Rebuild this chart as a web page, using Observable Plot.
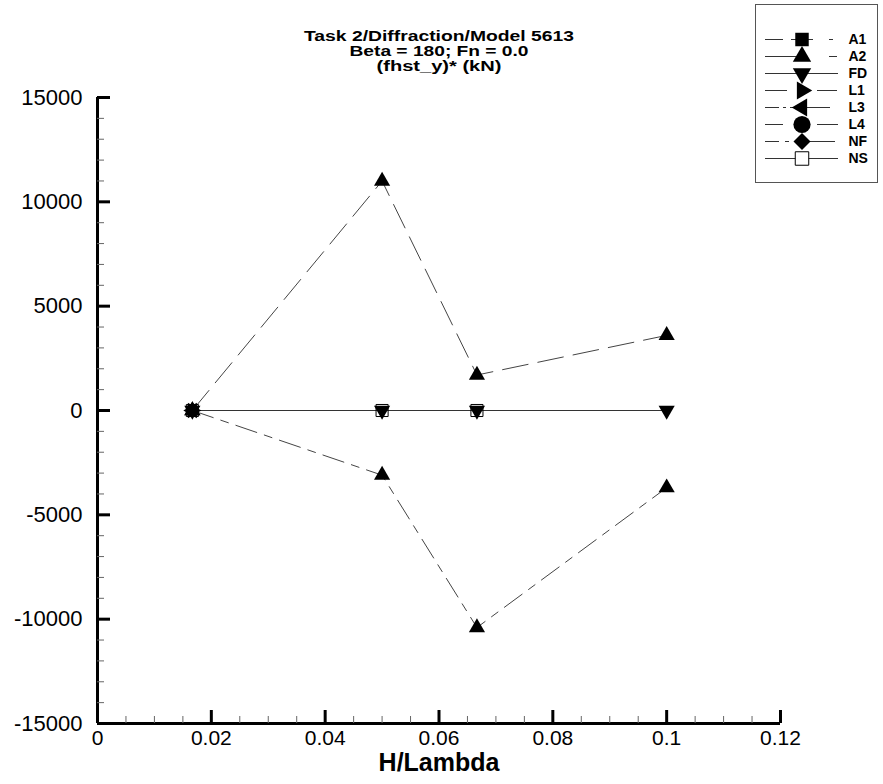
<!DOCTYPE html>
<html><head><meta charset="utf-8">
<script src="https://cdn.jsdelivr.net/npm/d3@7"></script>
<script src="https://cdn.jsdelivr.net/npm/@observablehq/plot@0.6"></script>
<style>
body{margin:0;background:#fff;}
#wrap{position:relative;width:883px;height:784px;font-family:"Liberation Sans",Arial,sans-serif;}
#legend{position:absolute;left:755px;top:4px;width:123px;height:179px;border:1px solid #555;box-sizing:border-box;background:#fff}
#legend svg{display:block}
</style></head><body>
<div id="wrap"><div id="chart"></div><div id="legend"></div></div>
<script>
// ---- data ----
const titleLines = ["Task 2/Diffraction/Model 5613", "Beta = 180; Fn = 0.0", "(fhst_y)* (kN)"];
const xLabel = "H/Lambda";
const xValues = [1/60, 0.05, 1/15, 0.1];
const a2Upper = [0, 11000, 1700, 3600];
const a2Lower = [0, -3100, -10400, -3700];
const fdValues = [0, 0, 0, 0];
const nsValues = [0, 0, 0];
const singlePointValues = [0];            // A1, L1, L3, L4, NF (first x only)
const singlePointSeries = ["A1", "L1", "L3", "L4", "NF"];
const seriesNames = ["A1", "A2", "FD", "L1", "L3", "L4", "NF", "NS"];
const xTickValues = [0, 0.02, 0.04, 0.06, 0.08, 0.1, 0.12];
const xTickLabels = ["0", "0.02", "0.04", "0.06", "0.08", "0.1", "0.12"];
const yTickValues = [-15000, -10000, -5000, 0, 5000, 10000, 15000];
const yTickLabels = ["-15000", "-10000", "-5000", "0", "5000", "10000", "15000"];

// ---- styles ----
const markerStyle = {
  A1: {symbol: "square", r: 6.8, rotate: 0, fill: "black", stroke: "none"},
  A2: {symbol: "triangle", r: 6, rotate: 0, fill: "black", stroke: "none"},
  FD: {symbol: "triangle", r: 6, rotate: 180, fill: "black", stroke: "none"},
  L1: {symbol: "triangle", r: 5.8, rotate: 90, fill: "black", stroke: "none"},
  L3: {symbol: "triangle", r: 5.8, rotate: -90, fill: "black", stroke: "none"},
  L4: {symbol: "circle", r: 7.8, rotate: 0, fill: "black", stroke: "none"},
  NF: {symbol: "square", r: 6, rotate: 45, fill: "black", stroke: "none"},
  NS: {symbol: "square", r: 6.8, rotate: 0, fill: "none", stroke: "black"}
};
const chartSizeScale = {A1: 0.85, L1: 1, L3: 1, L4: 0.7, NF: 0.85};
const legendDash = {
  A1: "18,8,22,16,4,16", A2: "34,30,8,40", FD: null, L1: "22,30,20,10,4,40",
  L3: "14,4,3,4,40,12,3,4,3,4,3,4", L4: "18,34,30,10,4,40", NF: "14,6,4,6,40,14,6,6,4,6", NS: null
};
const titleWidths = [270, 179, 125];
const FONT = "'Liberation Sans', Arial, sans-serif";

const mk = (name, ys, xs = xValues) => ys.map((y, i) => ({name, x: xs[i], y}));
const upper = mk("A2", a2Upper);
const lower = mk("A2", a2Lower);
const fd = mk("FD", fdValues);
const ns = mk("NS", nsValues);
const singles = singlePointSeries.flatMap(n => mk(n, singlePointValues));

const yMinor = d3.range(-15000, 15001, 1000).filter(v => v % 5000 !== 0);
const xMinor = d3.range(0, 0.1201, 0.005).filter(v => Math.abs(v / 0.02 - Math.round(v / 0.02)) > 1e-6);

const W = 883, H = 784, mL = 97, mR = 103, mT = 97, mB = 61;
const frameW = W - mL - mR, frameH = H - mT - mB;

const dotMarks = (rows, name, k = 1) => {
  const s = markerStyle[name];
  return Plot.dot(rows, {x: "x", y: "y", symbol: () => s.symbol, r: s.r * k, rotate: s.rotate,
    fill: s.fill, stroke: s.stroke, strokeWidth: 1});
};

const chart = Plot.plot({
  width: W, height: H,
  marginLeft: mL, marginRight: mR, marginTop: mT, marginBottom: mB,
  x: {domain: [0, 0.12]},
  y: {domain: [-15000, 15000]},
  symbol: {type: "identity"},
  style: {fontFamily: FONT, background: "white", color: "black", overflow: "visible"},
  marks: [
    // lines
    Plot.line(upper, {x: "x", y: "y", stroke: "#444", strokeWidth: 1, strokeDasharray: "26,10"}),
    Plot.line(lower, {x: "x", y: "y", stroke: "#444", strokeWidth: 1, strokeDasharray: "22,8,8,8"}),
    Plot.line(fd, {x: "x", y: "y", stroke: "#333", strokeWidth: 1.2}),
    Plot.line(ns, {x: "x", y: "y", stroke: "#333", strokeWidth: 1}),
    // markers
    ...singlePointSeries.map(n => dotMarks(singles.filter(d => d.name === n), n, chartSizeScale[n])),
    dotMarks(upper, "A2"),
    dotMarks(lower, "A2"),
    dotMarks(fd, "FD"),
    dotMarks(ns, "NS"),
    // axis lines
    Plot.ruleX([0], {stroke: "black", strokeWidth: 3}),
    Plot.ruleY([-15000], {stroke: "black", strokeWidth: 3}),
    // inward ticks
    Plot.tickY(yTickValues, {y: d => d, insetRight: frameW - 13, stroke: "black", strokeWidth: 3}),
    Plot.tickY(yMinor, {y: d => d, insetRight: frameW - 7, stroke: "#666", strokeWidth: 1}),
    Plot.tickX(xTickValues, {x: d => d, insetTop: frameH - 13, stroke: "black", strokeWidth: 3}),
    Plot.tickX(xMinor, {x: d => d, insetTop: frameH - 7, stroke: "#666", strokeWidth: 1}),
    // tick labels
    Plot.axisY({ticks: yTickValues, tickFormat: (d) => yTickLabels[yTickValues.indexOf(d)], tickSize: 0, tickPadding: 15, fontSize: 22, label: null}),
    Plot.axisX({ticks: xTickValues, tickFormat: (d) => xTickLabels[xTickValues.findIndex(v => Math.abs(v - d) < 1e-9)], tickSize: 0, tickPadding: 7, fontSize: 21, label: null}),
    // axis title
    Plot.text([xLabel], {text: d => d, frameAnchor: "bottom", dy: 47, fontSize: 25, fontWeight: "bold"}),
    // title lines
    ...titleLines.map((t, i) => Plot.text([t], {text: d => d, frameAnchor: "top", dy: -66 + 15 * i,
      fontSize: 14, fontWeight: "bold"}))
  ]
});
document.getElementById("chart").appendChild(chart);
// stretch title lines to the reference widths
chart.querySelectorAll("text").forEach(el => {
  const i = titleLines.indexOf(el.textContent);
  if (i >= 0) {
    el.setAttribute("textLength", titleWidths[i]);
    el.setAttribute("lengthAdjust", "spacingAndGlyphs");
  }
});

// ---- legend ----
const legendMarks = [];
seriesNames.forEach(n => {
  const s = markerStyle[n];
  legendMarks.push(Plot.ruleY([n], {y: d => d, x1: 0, x2: 1, stroke: "#333", strokeWidth: 1,
    strokeDasharray: legendDash[n] || undefined}));
  legendMarks.push(Plot.dot([n], {x: () => 0.5, y: d => d, symbol: () => s.symbol, r: s.r + 0.8, rotate: s.rotate,
    fill: s.fill === "none" ? "white" : s.fill, stroke: s.stroke, strokeWidth: 1}));
});
legendMarks.push(Plot.text(seriesNames, {x: () => 1, y: d => d, text: d => d, dx: 10, textAnchor: "start",
  fontSize: 14, fontWeight: "bold"}));

const legend = Plot.plot({
  width: 121, height: 177, margin: 0,
  x: {domain: [0, 1], range: [9, 82]},
  y: {type: "point", domain: seriesNames, range: [25, 161]},
  symbol: {type: "identity"},
  axis: null,
  style: {fontFamily: FONT, background: "white", color: "black"},
  marks: legendMarks
});
document.getElementById("legend").appendChild(legend);
</script>
</body></html>
